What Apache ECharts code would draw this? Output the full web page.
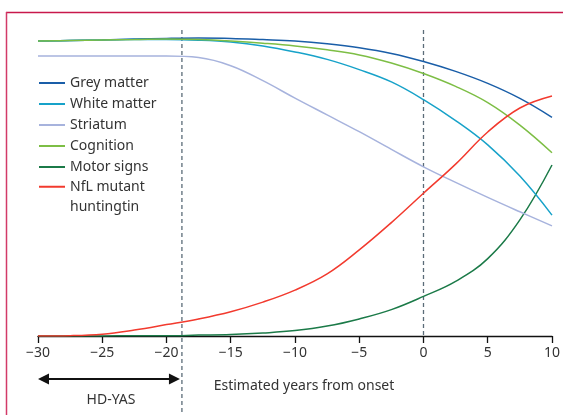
<!DOCTYPE html>
<html>
<head>
<meta charset="utf-8">
<script src="https://cdn.jsdelivr.net/npm/echarts@6/dist/echarts.min.js"></script>
<style>
  html, body { margin: 0; padding: 0; background: #fff; }
  #chart { width: 563px; height: 415px; }
</style>
</head>
<body>
<div id="chart"></div>
<script>
var years = [-30, -27.5, -25, -22.5, -20, -17.5, -15, -12.5, -10, -7.5, -5, -2.5, 0, 2.5, 5, 7.5, 10];
var greyMatter = [98.3, 98.5, 98.7, 99.0, 99.2, 99.3, 99.2, 98.8, 98.3, 97.4, 96.1, 94.2, 91.5, 88.2, 84.2, 79.2, 72.9];
var whiteMatter = [98.3, 98.5, 98.7, 98.8, 98.8, 98.6, 98.0, 96.7, 94.7, 92.2, 88.8, 84.7, 78.8, 71.8, 63.7, 53.3, 40.3];
var striatum = [93.3, 93.3, 93.3, 93.3, 93.3, 92.8, 90.1, 85.1, 79.3, 73.7, 68.1, 62.2, 56.4, 51.2, 46.2, 41.4, 36.7];
var cognition = [98.3, 98.5, 98.7, 98.8, 99.0, 98.8, 98.3, 97.6, 96.7, 95.4, 93.7, 91.0, 87.5, 83.2, 77.8, 70.3, 61.1];
var motorSigns = [0, 0, 0, 0.1, 0.1, 0.3, 0.5, 1.0, 1.8, 3.3, 5.7, 8.8, 13.2, 18.2, 25.8, 38.7, 57.0];
var nfl = [0, 0.1, 0.6, 2.0, 3.8, 5.7, 8.1, 11.3, 15.3, 20.7, 28.7, 37.8, 47.6, 57.3, 68.0, 76.0, 80.0];

var names = ['Grey matter', 'White matter', 'Striatum', 'Cognition', 'Motor signs', 'NfL mutant huntingtin'];
var colors = ['#1a5ea8', '#17a2c9', '#a7b3dd', '#7dbe45', '#1b7a48', '#f23a2e'];
var values = [greyMatter, whiteMatter, striatum, cognition, motorSigns, nfl];

var hdyasStart = -30;
var hdyasEnd = -18.8;   // dashed line marking end of HD-YAS window
var onset = 0;

var chart = echarts.init(document.getElementById('chart'));

function pairs(arr) {
    return years.map(function (y, i) { return [y, arr[i]]; });
}

var series = names.map(function (n, i) {
    return {
        name: n,
        type: 'line',
        data: pairs(values[i]),
        smooth: 0.4,
        symbol: 'none',
        lineStyle: { width: 1.5, color: colors[i] },
        itemStyle: { color: colors[i] },
        z: i === 4 ? 1 : 2
    };
});

var legendBase = {
    orient: 'vertical',
    left: 38,
    padding: 0,
    itemWidth: 26,
    itemHeight: 14,
    itemGap: 7,
    itemStyle: { opacity: 0, borderWidth: 0 },
    textStyle: { fontSize: 14, color: '#333', fontFamily: 'Noto Sans' }
};

var option = {
    animation: false,
    textStyle: { fontFamily: 'Noto Sans' },
    grid: { left: 38, right: 11, top: 36, bottom: 79 },
    legend: [
        Object.assign({}, legendBase, { top: 76, data: names.slice(0, 5) }),
        Object.assign({}, legendBase, {
            top: 156,
            data: [{ name: names[5], textStyle: { lineHeight: 20.5 } }],
            // blank first row so the first text line sits level with the icon
            formatter: function () { return '\u00a0\nNfL mutant\nhuntingtin'; }
        })
    ],
    xAxis: {
        type: 'value',
        min: -30,
        max: 10,
        interval: 5,
        name: 'Estimated years from onset',
        nameLocation: 'middle',
        nameGap: 43,
        nameTextStyle: { fontSize: 14, color: '#333', padding: [0, 0, 0, 18] },
        splitLine: { show: false },
        axisLine: { onZero: false, lineStyle: { color: '#111', width: 1.3 } },
        axisTick: { length: 7, lineStyle: { color: '#111', width: 1.3 } },
        axisLabel: {
            fontSize: 14,
            color: '#333',
            margin: 10,
            formatter: function (v) { return String(v).replace('-', '\u2212'); }
        }
    },
    yAxis: {
        type: 'value',
        min: 0,
        max: 100,
        show: false
    },
    series: series
};
chart.setOption(option);

// annotations placed through the axis scales
var xS = chart.convertToPixel({ xAxisIndex: 0 }, hdyasStart);
var xE = chart.convertToPixel({ xAxisIndex: 0 }, hdyasEnd);
var x0 = chart.convertToPixel({ xAxisIndex: 0 }, onset);
var yAxisPx = chart.convertToPixel({ yAxisIndex: 0 }, 0);
var arrowY = 379;
var dashStyle = { stroke: '#5b6c78', lineWidth: 1.3, lineDash: [4, 3] };

chart.setOption({
    graphic: [
        { type: 'line', shape: { x1: 6, y1: 12.5, x2: 563, y2: 12.5 }, style: { stroke: '#c8184b', lineWidth: 1.5 } },
        { type: 'line', shape: { x1: 6.5, y1: 12, x2: 6.5, y2: 415 }, style: { stroke: '#d23a68', lineWidth: 1.5 } },
        { type: 'line', shape: { x1: xE, y1: 30, x2: xE, y2: 412 }, style: dashStyle, z: 0 },
        { type: 'line', shape: { x1: x0, y1: 30, x2: x0, y2: yAxisPx }, style: dashStyle, z: 0 },
        { type: 'line', shape: { x1: xS + 8, y1: arrowY, x2: xE - 10, y2: arrowY }, style: { stroke: '#111', lineWidth: 2 } },
        { type: 'polygon', shape: { points: [[xS, arrowY], [xS + 11, arrowY - 5.5], [xS + 11, arrowY + 5.5]] }, style: { fill: '#111' } },
        { type: 'polygon', shape: { points: [[xE - 2, arrowY], [xE - 13, arrowY - 5.5], [xE - 13, arrowY + 5.5]] }, style: { fill: '#111' } },
        { type: 'text', x: (xS + xE) / 2 + 1, y: 400, style: { text: 'HD-YAS', fontSize: 14, fill: '#333', fontFamily: 'Noto Sans', align: 'center', verticalAlign: 'middle' } }
    ]
});
</script>
</body>
</html>
